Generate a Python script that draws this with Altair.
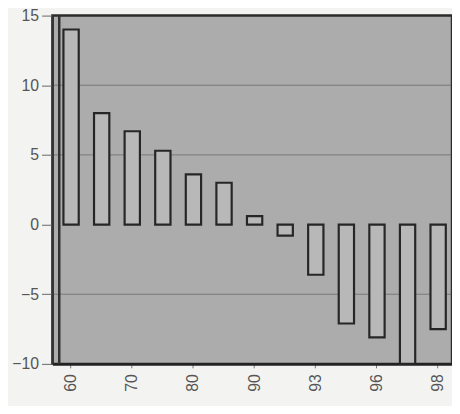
import altair as alt
import pandas as pd

years = ["60", "65", "70", "75", "80", "85", "90", "92", "93", "95", "96", "97", "98"]
values = [14.0, 8.0, 6.7, 5.3, 3.6, 3.0, 0.6, -0.8, -3.6, -7.1, -8.1, -10.0, -7.5]
shown_labels = ["60", "70", "80", "90", "93", "96", "98"]
y_ticks = [-10, -5, 0, 5, 10, 15]
grid_values = [-5, 5, 10]

df = pd.DataFrame({"year": years, "value": values, "zero": [0] * len(years)})
grid_df = pd.DataFrame({"value": grid_values})

label_color = "#555555"
font = "Liberation Sans"

x_enc = alt.X(
    "year:N", sort=years,
    scale=alt.Scale(paddingInner=0.5, paddingOuter=0.282, align=0.64),
    axis=alt.Axis(values=shown_labels, labelAngle=-90, title=None,
                  labelFontSize=16, labelColor=label_color, labelFont=font,
                  labelPadding=6, tickSize=4, tickColor="#777",
                  domainColor="#222", domainWidth=3, labelBaseline="middle",
                  labelAlign="right"),
)
y_scale = alt.Scale(domain=[-10, 15], nice=False, zero=False)
y_axis = alt.Axis(values=y_ticks, title=None, grid=False,
                  labelFontSize=16, labelColor=label_color, labelFont=font,
                  labelPadding=3, tickSize=11, tickColor="#666",
                  domainColor="#333", domainWidth=2)

grid = alt.Chart(grid_df).mark_rule(color="#3a3a3a", strokeWidth=1, opacity=0.45).encode(
    y=alt.Y("value:Q", scale=y_scale, axis=y_axis)
)

wall = alt.Chart(df).mark_rule(color="#333", strokeWidth=1.5).encode(
    x=alt.value(7), y=alt.value(0), y2=alt.value(353)
)

bars = alt.Chart(df).mark_bar(fill="#b8b8b8", stroke="#262626", strokeWidth=2.2).encode(
    x=x_enc,
    y=alt.Y("value:Q", scale=y_scale, axis=y_axis),
    y2="zero:Q",
)

chart = alt.layer(grid, wall, bars).properties(
    width=405, height=353,
    padding={"left": 45, "top": 5, "right": 0, "bottom": 40},
    autosize=alt.AutoSizeParams(type="none"),
    background="#f3f3f1",
).configure_view(
    fill="#acacac", stroke="#2b2b2b", strokeWidth=2.5
)

chart.save("out.html", embed_options={"renderer": "svg", "actions": False})
